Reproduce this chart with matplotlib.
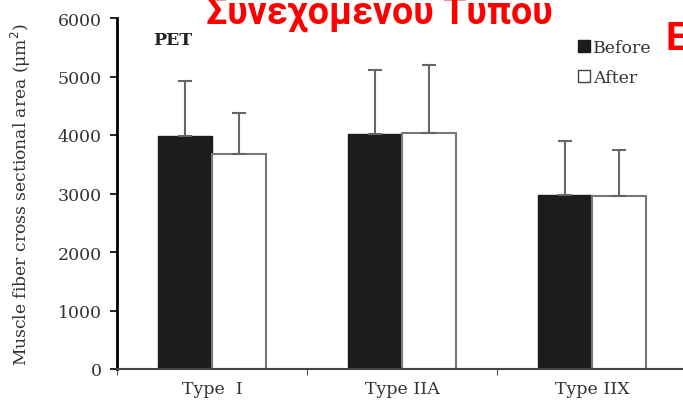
import numpy as np
import matplotlib.pyplot as plt
from matplotlib.patches import Patch

categories = ['Type  I', 'Type IIA', 'Type IIX']
before = [3980, 4020, 2975]
before_err = [950, 1090, 925]
after = [3675, 4035, 2955]
after_err = [705, 1165, 790]
yticks = [0, 1000, 2000, 3000, 4000, 5000, 6000]

plt.rcParams['font.family'] = ['DejaVu Serif', 'Liberation Serif']

fig = plt.figure(figsize=(6.83, 4.02), dpi=100)
ax = fig.add_axes([117 / 683, 32 / 402, 570 / 683, 351 / 402])

x = np.arange(len(categories))
w = 0.284
ax.bar(x - w / 2, before, w, color='#1c1c1c', edgecolor='#1c1c1c', linewidth=1)
ax.bar(x + w / 2, after, w, color='white', edgecolor='#777777', linewidth=1.5)
ax.errorbar(x - w / 2, before, yerr=[np.zeros(3), before_err], fmt='none',
            ecolor='#666666', elinewidth=1.5, capsize=5, capthick=1.5)
ax.errorbar(x + w / 2, after, yerr=[np.zeros(3), after_err], fmt='none',
            ecolor='#666666', elinewidth=1.5, capsize=5, capthick=1.5)

ax.set_xlim(-0.5, 2.5)
ax.set_ylim(0, 6000)
ax.set_yticks(yticks)
ax.set_xticks([-0.5, 0.5, 1.5, 2.5], minor=False)
ax.set_xticklabels([])
ax.set_xticks(x, minor=True)
ax.set_xticklabels(categories, minor=True)
ax.tick_params(axis='x', which='minor', length=0, pad=8, labelsize=12.5, labelcolor='#333333')
ax.tick_params(axis='x', which='major', length=4, color='#555555')
ax.tick_params(axis='y', length=5, width=1.2, pad=6, labelsize=12.5, labelcolor='#333333')
for s in ['top', 'right']:
    ax.spines[s].set_visible(False)
ax.spines['left'].set_linewidth(2)
ax.spines['bottom'].set_linewidth(1.5)
ax.spines['bottom'].set_color('#444444')

ax.set_ylabel('Muscle fiber cross sectional area (μm$^2$)', fontsize=12.3, color='#333333')
ax.yaxis.set_label_coords(-0.147, 0.5)
ax.text(0.063, 0.925, 'PET', transform=ax.transAxes, fontsize=12.5, fontweight='bold', color='#222222')

handles = [Patch(facecolor='#1c1c1c', edgecolor='#1c1c1c', label='Before'),
           Patch(facecolor='white', edgecolor='#444444', label='After')]
ax.legend(handles=handles, loc='upper left', bbox_to_anchor=(0.781, 0.985), frameon=False,
          fontsize=12.5, handlelength=0.7, handleheight=0.7, handletextpad=0.2,
          labelspacing=0.75, labelcolor='#333333')

fig.text(0.556, 1 - 24 / 402, 'Συνεχόμενου Τύπου', family=['Roboto', 'DejaVu Sans'],
         fontsize=27, fontweight='bold', color='#ff0000', ha='center', va='baseline')
fig.text(665 / 683, 1 - 50 / 402, 'E', family=['Roboto', 'DejaVu Sans'],
         fontsize=28, fontweight='bold', color='#ff0000', ha='left', va='baseline')

fig.savefig('out.png', dpi=100)
